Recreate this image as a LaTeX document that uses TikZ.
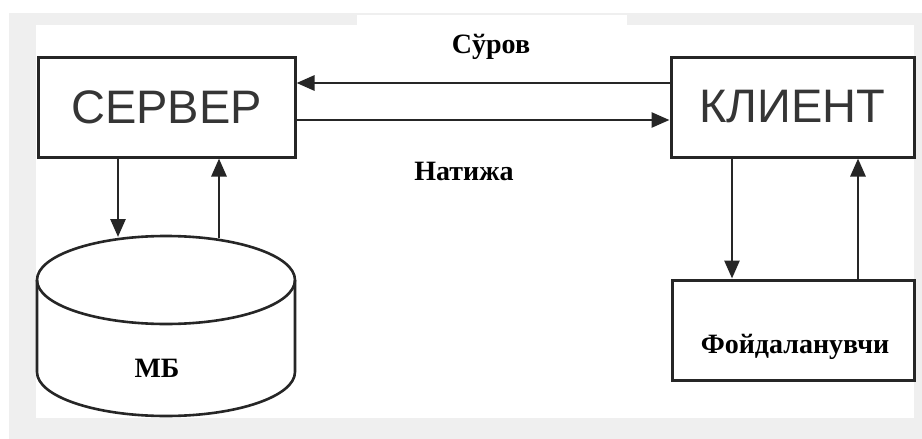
\documentclass[tikz,border=0pt]{standalone}
\usepackage{fontspec}
\setmainfont{Liberation Serif}
\newfontfamily\boxfont{Liberation Sans}
\usetikzlibrary{arrows.meta}
\definecolor{bggray}{HTML}{EFEFEF}
\definecolor{ink}{HTML}{262626}
\definecolor{boxtext}{HTML}{353535}
\begin{document}
\begin{tikzpicture}[x=1pt,y=-1pt,
  bigbox/.style={draw=ink, line width=3pt, minimum width=#1, minimum height=100pt, inner sep=0pt,
    font=\boxfont\fontsize{47}{52}\selectfont, text=boxtext},
  userbox/.style={draw=ink, line width=3pt, minimum width=242pt, minimum height=100pt, inner sep=0pt},
  lbl/.style={font=\bfseries\fontsize{28}{32}\selectfont, text=black, inner sep=0pt},
  arr/.style={draw=ink, line width=2.8pt, -{Triangle[length=18pt,width=15pt]}},
  cyl/.style={draw=ink, line width=2.6pt}
]
\useasboundingbox (0,0) rectangle (922,439);
% background
\fill[white] (0,0) rectangle (922,439);
\fill[bggray] (9,13) rectangle (922,439);
\fill[white] (36,25) rectangle (914,418);
\fill[white] (357,15) rectangle (627,25);

% boxes
\node[bigbox=257pt] (server) at (166.5,107) {СЕРВЕР};
\node[bigbox=243pt] (client) at (792.5,107) {КЛИЕНТ};
\node[userbox] (user) at (793,330) {};
\node[lbl, anchor=base] (usertext) at (795,353) {Фойдаланувчи};

% database cylinder
\draw[cyl, fill=white] (37,280) -- (37,372) arc[start angle=180, end angle=360, x radius=129, y radius=-44]
  -- (295,280) arc[start angle=0, end angle=180, x radius=129, y radius=-44] -- cycle;
\draw[cyl] (37,280) arc[start angle=180, end angle=360, x radius=129, y radius=-44];
\node[lbl, anchor=base] (db) at (157,377) {МБ};
\coordinate (dbin) at (118,237);
\coordinate (dbout) at (219,238);

% labels
\node[lbl, anchor=base] (req) at (491,53) {Сўров};
\node[lbl, anchor=base] (res) at (464,180) {Натижа};

% horizontal arrows
\coordinate (qy) at (0,83);
\coordinate (ry) at (0,120);
\draw[arr] (client.west |- qy) -- (server.east |- qy);
\draw[arr] (server.east |- ry) -- (client.west |- ry);

% vertical arrows
\draw[arr] (server.south -| dbin) -- (dbin);
\draw[arr] (dbout) -- (server.south -| dbout);
\coordinate (cd) at (732,0);
\coordinate (cu) at (858,0);
\draw[arr] (client.south -| cd) -- (user.north -| cd);
\draw[arr] (user.north -| cu) -- (client.south -| cu);
\end{tikzpicture}
\end{document}
